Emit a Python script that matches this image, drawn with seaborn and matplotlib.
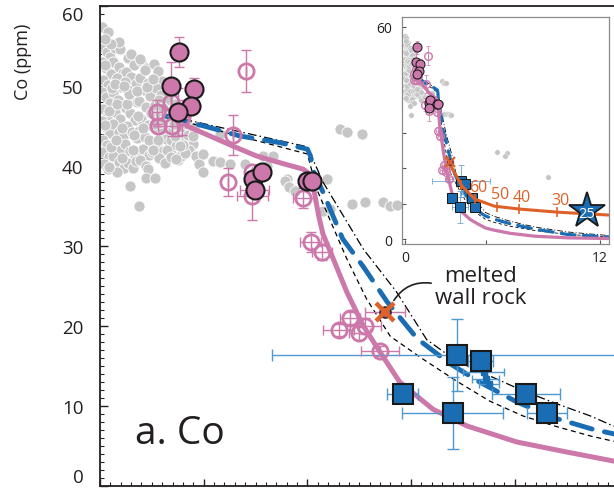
import numpy as np
import pandas as pd
import matplotlib
matplotlib.use('Agg')
import matplotlib.pyplot as plt
import seaborn as sns
from matplotlib.ticker import MultipleLocator, FixedLocator

sns.set_theme(style='ticks')
plt.rcParams['font.family'] = ['Open Sans', 'DejaVu Sans']

# ---------------- data ----------------
gray_x = [0.02, 0.08, 0.03, 0.07, 0.10, 0.02, 0.06, 0.11, 0.03, 0.08, 0.02, 0.06, 0.10, 0.03, 0.08, 0.02, 0.06, 0.10, 0.03, 0.07, 0.02, 0.09, 0.04, 0.08,
          0.14, 0.19, 0.13, 0.18, 0.22, 0.15, 0.20, 0.13, 0.17, 0.22, 0.14, 0.19, 0.13, 0.18, 0.22, 0.15, 0.20, 0.13, 0.18, 0.23, 0.16,
          0.27, 0.33, 0.25, 0.30, 0.35, 0.26, 0.31, 0.36, 0.25, 0.29, 0.34, 0.26, 0.31, 0.36, 0.24, 0.29, 0.34, 0.27, 0.32, 0.35,
          0.40, 0.44, 0.39, 0.46, 0.42, 0.48, 0.38, 0.44, 0.49, 0.40, 0.46, 0.38, 0.43, 0.49, 0.41, 0.47, 0.39, 0.44, 0.50,
          0.52, 0.56, 0.60, 0.54, 0.59, 0.63, 0.53, 0.58, 0.62, 0.54, 0.60, 0.64, 0.55, 0.61, 0.57, 0.63,
          0.67, 0.72, 0.68, 0.74, 0.70, 0.77, 0.68, 0.73, 0.79, 0.69, 0.75, 0.80, 0.78,
          0.84, 0.88, 0.83, 0.90, 0.86, 0.93, 0.82, 0.95,
          0.18, 0.30, 0.39, 0.43, 0.11, 0.05, 0.16, 0.24,
          0.05, 0.12, 0.09, 0.16, 0.21, 0.11, 0.05, 0.15, 0.26, 0.21, 0.09, 0.14, 0.28, 0.33, 0.23, 0.37, 0.32, 0.41, 0.36,
          0.45, 0.51, 0.47, 0.52, 0.57, 0.51, 0.56, 0.66, 0.61, 0.71, 0.65, 0.76, 0.72, 0.85, 0.80, 0.91,
          0.46, 0.44, 0.53, 0.29, 0.38, 0.68, 0.73,
          0.99, 1.09, 1.16, 1.25, 1.40, 1.57, 1.67, 1.61, 1.80, 1.85, 1.16, 0.90, 0.99, 0.77,
          1.78, 1.82, 1.88, 2.15, 2.22, 2.43, 2.56, 2.73, 2.80, 2.86, 2.19,
          2.31, 2.38, 2.53, 5.66, 6.30, 6.15, 8.80]
gray_y = [57.4, 56.8, 54.8, 54.2, 53.6, 53.0, 52.2, 51.5, 50.8, 50.1, 49.3, 48.6, 47.9, 47.1, 46.4, 45.6, 44.9, 44.1, 43.3, 42.6, 41.8, 41.1, 40.3, 39.6,
          54.7, 54.6, 53.0, 52.4, 51.6, 50.7, 49.9, 49.2, 48.3, 47.5, 46.8, 45.9, 45.2, 44.3, 43.6, 42.8, 42.0, 41.2, 40.5, 39.8, 39.3,
          53.5, 52.6, 51.8, 51.1, 50.2, 49.6, 48.8, 48.0, 47.3, 46.6, 45.8, 45.0, 44.2, 43.5, 42.7, 41.9, 41.2, 40.4, 39.7, 40.6,
          53.1, 52.3, 51.0, 50.4, 49.5, 48.8, 48.1, 47.4, 46.6, 45.9, 45.1, 44.4, 43.6, 42.9, 42.1, 41.4, 40.7, 40.0, 41.7,
          52.8, 51.9, 50.6, 49.7, 48.9, 48.0, 47.6, 46.5, 45.7, 44.9, 44.1, 43.4, 42.7, 41.9, 41.0, 40.4,
          48.2, 47.8, 46.0, 45.5, 44.6, 43.9, 43.3, 42.5, 42.0, 41.4, 40.8, 44.9, 41.2,
          45.3, 44.3, 43.4, 42.8, 42.0, 41.3, 41.6, 40.2,
          55.5, 54.0, 53.4, 52.0, 55.2, 55.9, 51.0, 50.5,
          52.6, 49.8, 46.9, 47.8, 44.8, 42.4, 45.1, 43.2, 47.8, 41.0, 39.9, 50.3, 49.0, 43.9, 50.0, 46.2, 42.0, 44.8, 49.4,
          49.9, 50.9, 43.3, 45.3, 48.3, 42.0, 43.2, 46.9, 47.2, 45.2, 42.0, 46.8, 43.8, 43.9, 42.6, 44.7,
          39.6, 38.5, 38.5, 37.5, 35.0, 41.1, 40.9,
          39.25, 40.6, 40.5, 40.25, 40.25, 41.25, 41.25, 40.0, 38.4, 37.1, 44.0, 43.75, 41.5, 42.5,
          38.1, 37.4, 36.9, 34.4, 34.6, 35.25, 35.5, 35.5, 35.0, 35.1, 38.4,
          44.6, 44.25, 44.0, 24.6, 24.4, 23.6, 17.6]

# model curves
pink_line_x = [0.84, 1.28, 1.51, 1.71, 1.96, 2.03, 2.07, 2.11, 2.15, 2.23, 2.38, 2.54, 2.70, 2.89, 3.21, 3.54, 4.02, 4.50, 4.96, 5.5, 6.5, 8.0, 10.0, 12.5]
pink_line_y = [45.0, 42.5, 41.25, 40.5, 39.6, 38.9, 36.5, 33.7, 31.5, 29.0, 24.25, 20.0, 16.75, 13.0, 9.6, 7.5, 5.5, 4.25, 3.1, 2.5, 1.6, 0.8, 0.35, 0.15]

blue_line_x = [0.63, 1.03, 1.35, 1.74, 2.00, 2.03, 2.05, 2.15, 2.34, 2.54, 2.77, 3.06, 3.38, 3.66, 4.02, 4.41, 4.75, 4.96, 5.5, 6.5, 8.0, 10.0, 12.5]
blue_line_y = [46.25, 44.9, 43.75, 42.9, 42.1, 41.25, 39.6, 36.75, 30.9, 27.4, 23.0, 18.4, 15.25, 13.0, 10.5, 8.4, 7.1, 6.5, 5.6, 4.3, 2.8, 1.3, 0.6]

dash_line_x = [0.65, 2.00, 2.09, 2.38, 2.57, 2.80, 3.11, 3.44, 3.76, 4.08, 4.41, 4.73, 4.95, 5.5, 6.5, 8.0, 10.0, 12.5]
dash_line_y = [46.1, 41.5, 37.1, 28.4, 23.4, 18.7, 15.9, 13.1, 10.6, 8.75, 7.4, 6.25, 5.6, 4.7, 3.6, 2.4, 1.3, 0.6]

dashdot_line_x = [0.65, 2.00, 2.15, 2.54, 2.86, 3.15, 3.44, 3.76, 4.08, 4.41, 4.73, 4.95, 5.5, 6.5, 8.0, 10.0, 12.5]
dashdot_line_y = [46.3, 42.4, 38.0, 29.6, 24.25, 18.3, 15.6, 13.75, 11.9, 10.25, 8.75, 7.5, 6.4, 5.0, 3.4, 2.0, 1.0]

# filled pink circles
circ_x = [0.76, 0.68, 0.91, 0.88, 0.75, 1.48, 1.56, 1.49, 2.00, 2.04]
circ_y = [54.25, 50.0, 49.6, 47.5, 46.75, 38.4, 39.25, 37.0, 38.1, 38.1]
circ_xerr = [0.0, 0.0, 0.0, 0.0, 0.0, 0.0, 0.0, 0.14, 0.0, 0.0]
circ_yerr = [1.9, 3.0, 1.4, 0.0, 3.0, 0.0, 0.0, 0.0, 0.0, 0.0]

# open pink symbols
hex_x = [0.55, 0.56, 0.69, 0.68, 0.79, 1.41, 1.28, 1.23, 1.47, 1.47, 1.96, 2.03, 2.14, 2.41, 2.30, 2.50, 2.56, 2.70]
hex_y = [46.75, 45.0, 45.0, 48.0, 46.1, 51.9, 43.9, 38.0, 36.25, 39.2, 36.0, 30.5, 29.25, 21.0, 19.5, 19.1, 20.0, 16.9]
hex_xerr = [0.05, 0.0, 0.05, 0.0, 0.06, 0.0, 0.0, 0.0, 0.15, 0.0, 0.10, 0.10, 0.10, 0.10, 0.15, 0.10, 0.15, 0.18]
hex_yerr = [1.5, 0.0, 1.2, 1.0, 2.2, 2.6, 2.5, 1.8, 3.0, 0.0, 1.3, 1.2, 1.0, 0.8, 0.8, 0.8, 1.0, 0.6]

# blue squares
sq_x = [3.44, 3.67, 2.92, 3.40, 4.11, 4.31]
sq_y = [16.4, 15.6, 11.5, 9.1, 11.5, 9.1]
sq_xerr = [1.78, 0.12, 0.15, 0.49, 0.33, 0.19]
sq_yerr = [4.5, 0.6, 0.0, 4.5, 0.5, 0.5]

small_sq_x = [3.70, 3.72, 3.75]
small_sq_y = [14.25, 13.4, 12.8]
small_sq_xerr = [0.20, 0.13, 0.10]

# melted wall rock
wall_x = [2.75]
wall_y = [21.75]
wall_xerr = [0.19]

# inset: assimilation curve
orange_x = [2.65, 3.5, 4.3, 5.5, 7.0, 9.4, 12.5]
orange_y = [22.1, 15.0, 11.3, 9.3, 8.5, 7.6, 6.8]
orange_tick_x = [2.65, 3.45, 4.3, 5.66, 7.0, 9.35]
orange_tick_y = [22.1, 15.3, 11.3, 9.2, 8.5, 7.6]
orange_labels = ['', '', '60', '50', '40', '30']
star_x = [11.2]
star_y = [7.9]
star_label = '25'

# ---------------- style ----------------
PINK = '#cc78ab'
BLUE = '#1b6db3'
BLUE_ERR = '#4f98d0'
GRAY = '#c6c6c6'
ORANGE = '#de6228'
TXT = '#231f20'

fig = plt.figure(figsize=(6.14, 4.89), dpi=100)
ax = fig.add_axes([100 / 614, 2 / 489, 518.5 / 614, 480 / 489])


def draw(a, s, ls):
    sns.scatterplot(x=gray_x, y=gray_y, ax=a, s=64 * s * s, color=GRAY,
                    edgecolor='white', linewidth=0.6 * s, zorder=1, legend=False)
    sns.lineplot(x=dashdot_line_x, y=dashdot_line_y, sort=False, ax=a, color='black',
                 lw=0.9 * ls, linestyle=(0, (7, 2.5, 1.2, 2.5)), zorder=2)
    sns.lineplot(x=dash_line_x, y=dash_line_y, sort=False, ax=a, color='black',
                 lw=0.9 * ls, linestyle=(0, (4, 3)), zorder=2)
    sns.lineplot(x=blue_line_x, y=blue_line_y, sort=False, ax=a, color=BLUE,
                 lw=3.5 * ls, linestyle=(0, (4.4, 2.6)), dash_capstyle='round', zorder=3)
    sns.lineplot(x=pink_line_x, y=pink_line_y, sort=False, ax=a, color=PINK,
                 lw=3.6 * ls, zorder=3, solid_capstyle='round')
    # error bars
    a.errorbar(sq_x, sq_y, xerr=sq_xerr, yerr=sq_yerr, fmt='none', ecolor=BLUE_ERR,
               elinewidth=1.0 * s, capsize=4 * s, capthick=1.0 * s, zorder=4)
    a.errorbar(small_sq_x, small_sq_y, xerr=small_sq_xerr, fmt='s', ms=4 * s, mfc=BLUE,
               mec=BLUE, ecolor=BLUE_ERR, elinewidth=1.0 * s, capsize=3 * s, zorder=4)
    a.errorbar(hex_x, hex_y, xerr=hex_xerr, yerr=hex_yerr, fmt='none', ecolor=PINK,
               elinewidth=1.0 * s, capsize=3.5 * s, capthick=1.0 * s, zorder=4)
    a.errorbar(circ_x, circ_y, xerr=circ_xerr, yerr=circ_yerr, fmt='none', ecolor=PINK,
               elinewidth=1.0 * s, capsize=3.5 * s, capthick=1.0 * s, zorder=4)
    a.errorbar(wall_x, wall_y, xerr=wall_xerr, fmt='none', ecolor=PINK,
               elinewidth=1.0 * s, capsize=3.5 * s, zorder=4)
    # symbols
    a.plot(hex_x, hex_y, 'o', ms=11 * s, mfc='none', mec=PINK, mew=2.0 * s, zorder=5)
    a.plot(circ_x, circ_y, 'o', ms=13 * s, mfc=PINK, mec='#1a1a1a', mew=1.5 * s, zorder=6)
    a.plot(sq_x, sq_y, 's', ms=14 * s, mfc=BLUE, mec='#1a1a1a', mew=1.5 * s, zorder=6)
    a.plot(wall_x, wall_y, 'o', ms=8 * s, mfc='#9a5a8c', mec='#1a1a1a', mew=1 * s, zorder=7)
    a.plot(wall_x, wall_y, 'x', ms=13 * s, mec=ORANGE, mew=3.2 * s, zorder=8)


draw(ax, 1.0, 1.0)
ax.set_xlim(0, 5.0)
ax.set_ylim(0, 60)
ax.xaxis.set_major_locator(MultipleLocator(1))
ax.xaxis.set_minor_locator(MultipleLocator(0.1))
ax.yaxis.set_major_locator(MultipleLocator(10))
ax.yaxis.set_minor_locator(MultipleLocator(1))
ax.tick_params(axis='x', which='major', direction='in', length=5, width=1.0,
               labelbottom=False, color=TXT)
ax.tick_params(axis='x', which='minor', direction='in', length=3, width=0.8, color=TXT)
ax.tick_params(axis='y', which='major', direction='in', length=6, width=1.0,
               labelsize=13.5, pad=12, labelcolor=TXT, color=TXT)
ax.tick_params(axis='y', which='minor', direction='in', length=3, width=0.8, color=TXT)
for side in ['left', 'bottom', 'top']:
    ax.spines[side].set_linewidth(1.3)
    ax.spines[side].set_color(TXT)
ax.spines['right'].set_visible(False)
ax.set_xlabel('')
ax.set_ylabel('')
# keep the end labels inside the figure, as in the original
ticks = ax.yaxis.get_major_ticks()
fig.canvas.draw()
for t in ax.yaxis.get_major_ticks():
    v = t.get_loc()
    if abs(v - 60) < 1e-6:
        t.label1.set_verticalalignment('top')
    elif abs(v) < 1e-6:
        t.label1.set_verticalalignment('bottom')

fig.text(23 / 614, 1 - 62 / 489, 'Co (ppm)', rotation=90, ha='center', va='center',
         fontsize=13, color=TXT)

ax.text(0.34, 5.4, 'a. Co', fontsize=28, color=TXT, ha='left', va='baseline', zorder=10)
ax.text(3.67, 24.9, 'melted\nwall rock', fontsize=16, color=TXT, ha='center', va='center',
        linespacing=1.05, zorder=10)
ax.annotate('', xy=(2.82, 22.9), xytext=(3.22, 25.3),
            arrowprops=dict(arrowstyle='-', connectionstyle='arc3,rad=0.35',
                            color=TXT, lw=1.2), zorder=9)

# ---------------- inset ----------------
axin = fig.add_axes([402 / 614, (489 - 245) / 489, 207 / 614, 227 / 489])
axin.set_facecolor('white')
draw(axin, 0.5, 0.65)
sns.lineplot(x=orange_x, y=orange_y, sort=False, ax=axin, color=ORANGE, lw=2.2, zorder=6)
axin.plot(orange_tick_x, orange_tick_y, '|', ms=7, mew=1.2, color=ORANGE, zorder=6)
for tx, ty, lab in zip(orange_tick_x, orange_tick_y, orange_labels):
    if lab:
        axin.text(tx + 0.2, ty + 1.2, lab, color=ORANGE, fontsize=11.5, ha='center',
                  va='bottom', zorder=7)
axin.plot(star_x, star_y, '*', ms=27, mfc=BLUE, mec='#1a1a1a', mew=1.3, zorder=8)
axin.text(star_x[0], star_y[0] - 0.6, star_label, color='white', fontsize=10.5,
          ha='center', va='center', zorder=9)

axin.set_xlim(-0.18, 12.55)
axin.set_ylim(-1.4, 62.8)
axin.xaxis.set_major_locator(FixedLocator([0, 5, 12]))
axin.set_xticklabels(['0', '', '12'])
axin.yaxis.set_major_locator(FixedLocator([0, 10, 20, 30, 40, 50, 60]))
axin.set_yticklabels(['0', '', '', '', '', '', '60'])
axin.tick_params(axis='both', which='major', direction='in', length=3, width=0.8,
                 labelsize=10, color='#555555', labelcolor=TXT)
axin.tick_params(axis='y', pad=7)
axin.tick_params(axis='x', pad=4)
for side in axin.spines:
    axin.spines[side].set_linewidth(0.9)
    axin.spines[side].set_color('#8a8a8a')
axin.set_xlabel('')
axin.set_ylabel('')

fig.savefig('out.png', dpi=100)
